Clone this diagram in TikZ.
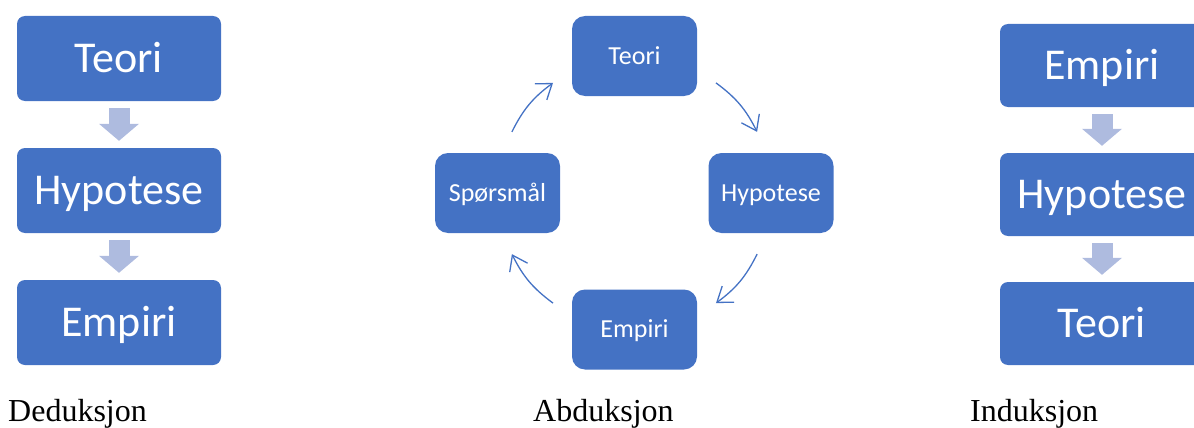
\documentclass[tikz,border=0pt]{standalone}
\usepackage{fontspec}
\setmainfont{Liberation Serif}
\newfontfamily\boxfont{Carlito}
\usetikzlibrary{arrows.meta}
\definecolor{boxblue}{HTML}{4472C4}
\definecolor{arrowblue}{HTML}{AEBBDF}
\begin{document}
\begin{tikzpicture}[x=1pt,y=1pt,
  bigbox/.style={fill=boxblue, rounded corners=8pt, minimum width=204pt, minimum height=85pt, inner sep=0pt, text=white, font=\boxfont\fontsize{44}{52}\selectfont, text height=28.3pt, text depth=0pt},
  smallbox/.style={fill=boxblue, rounded corners=13pt, minimum width=125pt, minimum height=80pt, inner sep=0pt, text=white, font=\boxfont\fontsize{26}{31}\selectfont, text height=16.7pt, text depth=0pt},
  blockarrow/.style={draw=arrowblue, line width=21pt, -{Triangle[length=17pt,width=40pt,line width=0pt,sharp]}, shorten <=7pt, shorten >=7pt},
  cyc/.style={draw=boxblue, line width=1.3pt, -{Straight Barb[length=14pt,width=20pt]}},
  caption/.style={font=\fontsize{32}{38}\selectfont, anchor=base west, inner sep=0pt}]
\useasboundingbox (0,0) rectangle (1194,-428);
\clip (0,0) rectangle (1194,-428);
% Deduksjon
\node[bigbox] (d1) at (119,-58.5) {Teori};
\node[bigbox] (d2) at (119,-190.5) {Hypotese};
\node[bigbox] (d3) at (119,-322.5) {Empiri};
\draw[blockarrow] (d1.south) -- (d2.north);
\draw[blockarrow] (d2.south) -- (d3.north);
\node[caption] (dcap) at (8,-421) {Deduksjon};
% Abduksjon
\node[smallbox] (te) at (634.5,-56) {Teori};
\node[smallbox] (hy) at (771,-193) {Hypotese};
\node[smallbox] (em) at (634.5,-329.5) {Empiri};
\node[smallbox] (sp) at (497.5,-193) {Spørsmål};
\coordinate (cc) at (634.5,-193);
\coordinate (a1s) at ([shift={(153.5:137)}]cc);
\coordinate (a1e) at ([shift={(126.5:137)}]cc);
\coordinate (a2s) at ([shift={(53.5:137)}]cc);
\coordinate (a2e) at ([shift={(26.5:137)}]cc);
\coordinate (a3s) at ([shift={(-26.5:137)}]cc);
\coordinate (a3e) at ([shift={(-53.5:137)}]cc);
\coordinate (a4s) at ([shift={(-126.5:137)}]cc);
\coordinate (a4e) at ([shift={(-153.5:137)}]cc);
\draw[cyc] (a1s) to[bend left=13.5] (a1e);
\draw[cyc] (a2s) to[bend left=13.5] (a2e);
\draw[cyc] (a3s) to[bend left=13.5] (a3e);
\draw[cyc] (a4s) to[bend left=13.5] (a4e);
\node[caption] (acap) at (533,-421) {Abduksjon};
% Induksjon
\node[bigbox, minimum height=83pt] (i1) at (1102,-65.5) {Empiri};
\node[bigbox, minimum height=83pt] (i2) at (1102,-194.5) {Hypotese};
\node[bigbox, minimum height=83pt] (i3) at (1102,-323.5) {Teori};
\draw[blockarrow] (i1.south) -- (i2.north);
\draw[blockarrow] (i2.south) -- (i3.north);
\node[caption] (icap) at (970,-421) {Induksjon};
\end{tikzpicture}
\end{document}
